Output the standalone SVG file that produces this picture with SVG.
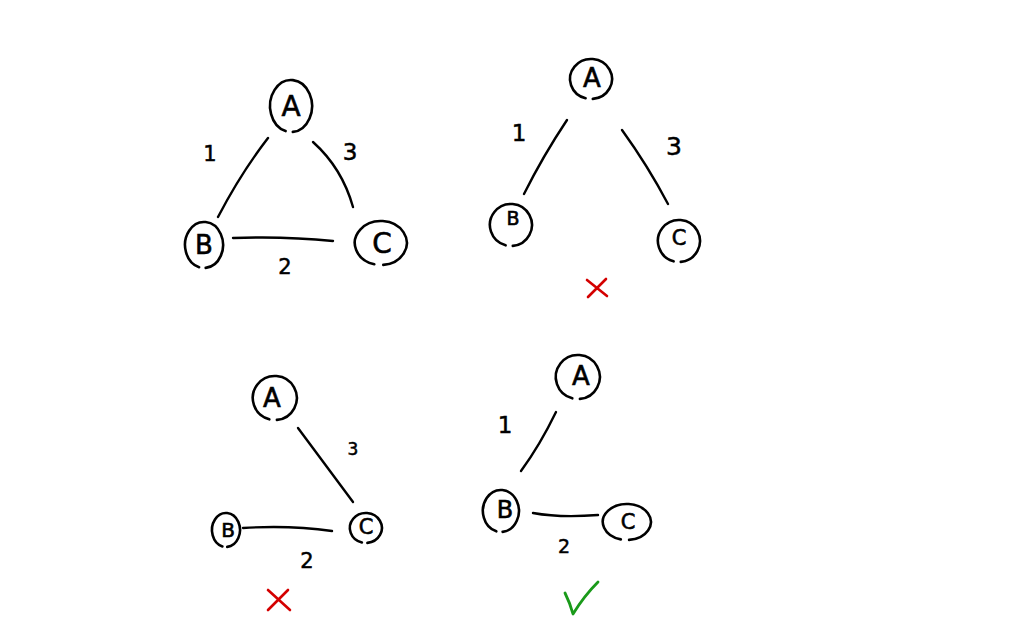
<svg xmlns="http://www.w3.org/2000/svg" width="1024" height="640" viewBox="0 0 1024 640">
<style>
.ring{fill:none;stroke:#000;stroke-width:2.6;stroke-linecap:round}
.edge{fill:none;stroke:#000;stroke-width:2.4;stroke-linecap:round}
.lt{font-family:"DejaVu Sans","Liberation Sans",sans-serif;fill:#000;stroke:#000;stroke-width:0.6;text-anchor:middle;dominant-baseline:central}
.num{font-family:"DejaVu Sans","Liberation Sans",sans-serif;fill:#000;stroke:#000;stroke-width:0.5;text-anchor:middle;dominant-baseline:central}
.bad{fill:none;stroke:#d40000;stroke-width:2.6;stroke-linecap:round}
.good{fill:none;stroke:#1a9a1a;stroke-width:2.8;stroke-linecap:round;stroke-linejoin:round}
</style>
<rect width="1024" height="640" fill="#fff"/>

<g id="connectors">
  <path class="edge" d="M268,138 Q241,173 218,217"/>
  <path class="edge" d="M313,142 Q342,168 353,207"/>
  <path class="edge" d="M233,238 Q285,236 333,241"/>
  <path class="edge" d="M567,120 Q543,156 524,194"/>
  <path class="edge" d="M622,130 Q648,166 668,204"/>
  <path class="edge" d="M298,428 L353,502"/>
  <path class="edge" d="M243,528 Q290,525 332,531"/>
  <path class="edge" d="M556,412 Q540,445 521,471"/>
  <path class="edge" d="M533,513 Q560,518 598,515"/>
</g>

<g id="d1-A"><path class="ring" d="M285.6,131.1 A21 26 0 1 1 292.8,131.9"/><text class="lt" x="291" y="106" font-size="28">A</text></g>
<g id="d1-B"><path class="ring" d="M199.1,267.2 A19 23 0 1 1 205.7,267.9"/><text class="lt" x="204" y="245" font-size="26">B</text></g>
<g id="d1-C"><path class="ring" d="M374.3,264.3 A26 22 0 1 1 383.3,264.9"/><text class="lt" x="382" y="243" font-size="28">C</text></g>
<g id="d1-labels">
  <text class="num" x="210" y="154" font-size="21">1</text>
  <text class="num" x="350" y="152" font-size="23">3</text>
  <text class="num" x="285" y="267" font-size="21">2</text>
</g>

<g id="d2-A"><path class="ring" d="M585.6,98.3 A21 20 0 1 1 592.8,98.9"/><text class="lt" x="592" y="78" font-size="26">A</text></g>
<g id="d2-B"><path class="ring" d="M505.6,245.3 A21 21 0 1 1 512.8,245.9"/><text class="lt" x="513" y="218" font-size="19">B</text></g>
<g id="d2-C"><path class="ring" d="M673.6,261.3 A21 21 0 1 1 680.8,261.9"/><text class="lt" x="679" y="238" font-size="21">C</text></g>
<g id="d2-labels">
  <text class="num" x="519" y="133" font-size="23">1</text>
  <text class="num" x="674" y="146" font-size="25">3</text>
</g>
<path id="d2-mark" class="bad" d="M587,280 L607,296 M606,279 L588,297"/>

<g id="d3-A"><path class="ring" d="M269.3,419.3 A22 22 0 1 1 276.9,419.9"/><text class="lt" x="272" y="398" font-size="26">A</text></g>
<g id="d3-B"><path class="ring" d="M222.4,546.4 A14 17 0 1 1 227.2,546.9"/><text class="lt" x="228" y="530" font-size="20">B</text></g>
<g id="d3-C"><path class="ring" d="M361.9,542.5 A16 15 0 1 1 367.4,542.9"/><text class="lt" x="366" y="527" font-size="21">C</text></g>
<g id="d3-labels">
  <text class="num" x="353" y="449" font-size="17">3</text>
  <text class="num" x="307" y="561" font-size="21">2</text>
</g>
<path id="d3-mark" class="bad" d="M268,590 L290,610 M288,590 L268,610"/>

<g id="d4-A"><path class="ring" d="M572.3,398.3 A22 22 0 1 1 579.9,398.9"/><text class="lt" x="581" y="376" font-size="26">A</text></g>
<g id="d4-B"><path class="ring" d="M496.3,531.3 A18 21 0 1 1 502.6,531.9"/><text class="lt" x="505" y="510" font-size="24">B</text></g>
<g id="d4-C"><path class="ring" d="M620.8,539.4 A24 18 0 1 1 629.1,539.9"/><text class="lt" x="628" y="522" font-size="21">C</text></g>
<g id="d4-labels">
  <text class="num" x="505" y="425" font-size="23">1</text>
  <text class="num" x="564" y="546" font-size="19">2</text>
</g>
<path id="d4-mark" class="good" d="M565,593 Q570,603 573,614 Q584,596 598,582"/>
</svg>
